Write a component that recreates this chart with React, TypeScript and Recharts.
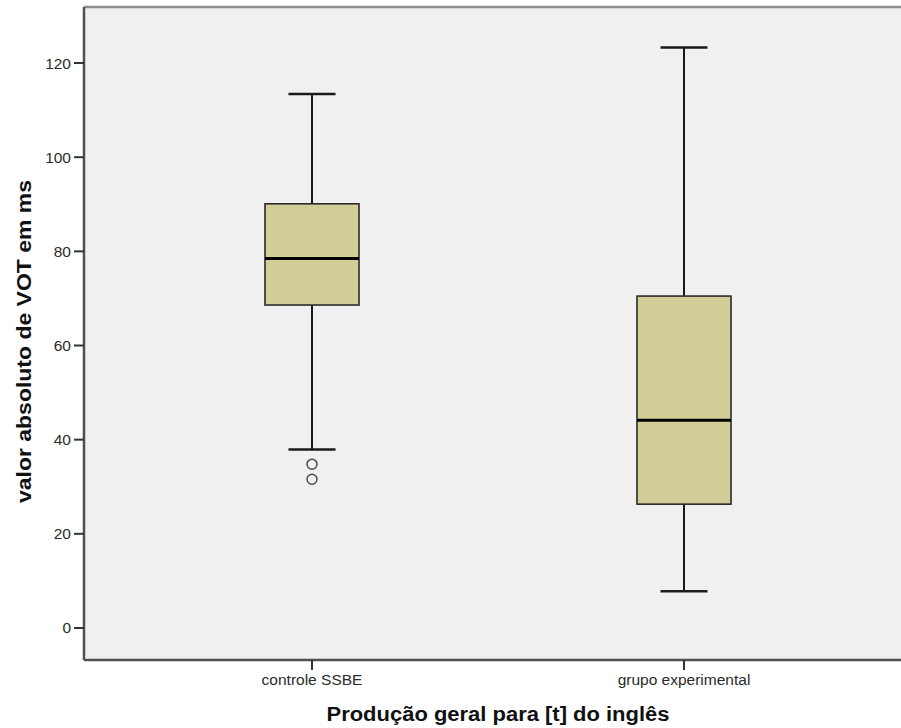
import {
  ComposedChart,
  Bar,
  Scatter,
  XAxis,
  YAxis,
  CartesianGrid,
  ReferenceLine,
} from "recharts";

// Five-number summaries per group (VOT in ms)
const categories = ["controle SSBE", "grupo experimental"];
const lowerWhisker = [37.9, 7.8];
const firstQuartile = [68.6, 26.3];
const medians = [78.5, 44.1];
const thirdQuartile = [90.1, 70.5];
const upperWhisker = [113.4, 123.3];

// Outliers drawn as open circles
const outlierGroups = ["controle SSBE", "controle SSBE"];
const outlierValues = [34.8, 31.6];

const yTicks = [0, 20, 40, 60, 80, 100, 120];
const yDomain = [-6.8, 131.9];

const xTitle = "Produção geral para [t] do inglês";
const yTitle = "valor absoluto de VOT em ms";

const boxData = categories.map((name, i) => ({
  name,
  box: [firstQuartile[i], thirdQuartile[i]],
  min: lowerWhisker[i],
  q1: firstQuartile[i],
  median: medians[i],
  q3: thirdQuartile[i],
  max: upperWhisker[i],
}));

const outliers = outlierGroups.map((name, i) => ({ name, value: outlierValues[i] }));

const FONT = "'Liberation Sans', Arial, sans-serif";

// The bar covers q1..q3; whiskers and median are placed on the same pixel scale
function BoxShape(props: any) {
  const { x, y, width, height, payload } = props;
  const top = Math.min(y, y + height);
  const h = Math.abs(height);
  const k = h / (payload.q3 - payload.q1);
  const py = (v: number) => top + (payload.q3 - v) * k;
  const cx = x + width / 2;
  const cap = width / 4;
  const line = "#1a1a1a";
  return (
    <g>
      <line x1={cx} x2={cx} y1={py(payload.max)} y2={top} stroke={line} strokeWidth={2} />
      <line x1={cx} x2={cx} y1={top + h} y2={py(payload.min)} stroke={line} strokeWidth={2} />
      <line x1={cx - cap} x2={cx + cap} y1={py(payload.max)} y2={py(payload.max)} stroke={line} strokeWidth={2.5} />
      <line x1={cx - cap} x2={cx + cap} y1={py(payload.min)} y2={py(payload.min)} stroke={line} strokeWidth={2.5} />
      <rect x={x} y={top} width={width} height={h} fill="#D3CE98" stroke="#2a2a2a" strokeWidth={1.6} />
      <line x1={x} x2={x + width} y1={py(payload.median)} y2={py(payload.median)} stroke="#000" strokeWidth={3} />
    </g>
  );
}

function OutlierShape(props: any) {
  const { cx, cy } = props;
  return <circle cx={cx} cy={cy} r={5} fill="none" stroke="#4a4a4a" strokeWidth={1.5} />;
}

function XTitle(props: any) {
  const vb = props.viewBox;
  return (
    <text
      x={vb.x + vb.width / 2}
      y={vb.y + 61}
      textAnchor="middle"
      fontFamily={FONT}
      fontWeight="bold"
      fontSize={20}
      fill="#111"
      textLength={343}
      lengthAdjust="spacingAndGlyphs"
    >
      {xTitle}
    </text>
  );
}

function YTitle(props: any) {
  const vb = props.viewBox;
  const tx = 31;
  const ty = vb.y + vb.height / 2 + 8;
  return (
    <text
      x={tx}
      y={ty}
      transform={`rotate(-90, ${tx}, ${ty})`}
      textAnchor="middle"
      fontFamily={FONT}
      fontWeight="bold"
      fontSize={20}
      fill="#111"
      textLength={323}
      lengthAdjust="spacingAndGlyphs"
    >
      {yTitle}
    </text>
  );
}

export default function App() {
  return (
    <div
      style={{
        position: "absolute",
        left: 0,
        top: 0,
        width: 901,
        height: 728,
        overflow: "hidden",
        background: "#fff",
      }}
    >
      <ComposedChart
        width={930}
        height={728}
        data={boxData}
        margin={{ top: 7, right: 18, left: 0, bottom: 0 }}
      >
        <CartesianGrid horizontal={false} vertical={false} fill="#F0F0F0" />
        <ReferenceLine y={yDomain[1]} stroke="#8f8f8f" strokeWidth={2.5} />
        <XAxis
          dataKey="name"
          type="category"
          allowDuplicatedCategory={false}
          padding={{ left: 42, right: 42 }}
          height={68}
          tickSize={10}
          tickMargin={4}
          axisLine={{ stroke: "#505050", strokeWidth: 2.5 }}
          tickLine={{ stroke: "#333", strokeWidth: 2 }}
          tick={{ fontSize: 15.5, fill: "#2b2b2b", fontFamily: FONT }}
          label={{ content: XTitle }}
        />
        <YAxis
          type="number"
          domain={yDomain}
          ticks={yTicks}
          allowDataOverflow
          width={84}
          tickSize={10}
          tickMargin={3}
          axisLine={{ stroke: "#505050", strokeWidth: 2.5 }}
          tickLine={{ stroke: "#333", strokeWidth: 2 }}
          tick={{ fontSize: 15.5, fill: "#2b2b2b", fontFamily: FONT }}
          label={{ content: YTitle }}
        />
        <Bar dataKey="box" barSize={94} shape={BoxShape} isAnimationActive={false} />
        <Scatter
          data={outliers}
          dataKey="value"
          shape={OutlierShape}
          isAnimationActive={false}
        />
      </ComposedChart>
    </div>
  );
}
